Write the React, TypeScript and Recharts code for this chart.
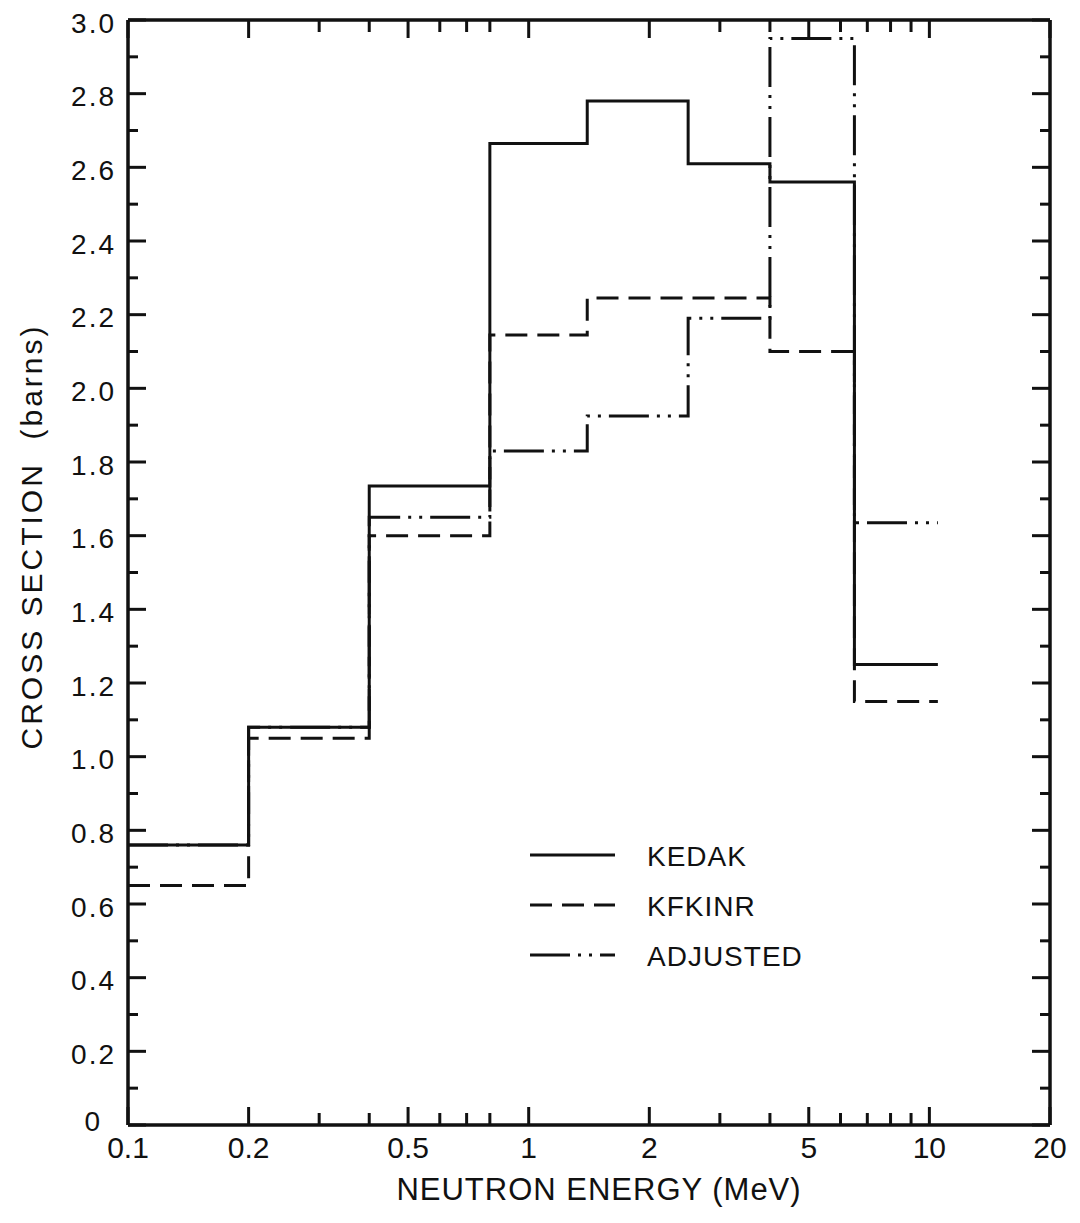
import { Legend, Line, LineChart, XAxis, YAxis } from "recharts";

// bin edges (MeV) and the group cross sections (barns) per bin
const energyEdges = [0.1, 0.2, 0.4, 0.8, 1.4, 2.5, 4.0, 6.5, 10.5];
const kedak = [0.76, 1.08, 1.735, 2.665, 2.78, 2.61, 2.56, 1.25];
const kfkinr = [0.65, 1.05, 1.6, 2.145, 2.245, 2.245, 2.1, 1.15];
const adjusted = [0.76, 1.08, 1.65, 1.83, 1.925, 2.19, 2.95, 1.635];

const xMajorTicks = [0.1, 0.2, 0.5, 1, 2, 5, 10, 20];
const xMinorTicks = [0.3, 0.4, 0.6, 0.7, 0.8, 3, 4, 6, 7, 8, 9];
const yMajorTicks = [0, 0.2, 0.4, 0.6, 0.8, 1.0, 1.2, 1.4, 1.6, 1.8, 2.0, 2.2, 2.4, 2.6, 2.8, 3.0];
const yMinorTicks = [0.1, 0.3, 0.5, 0.7, 0.9, 1.1, 1.3, 1.5, 1.7, 1.9, 2.1, 2.3, 2.5, 2.7, 2.9];

const FONT = '"Liberation Sans", Arial, sans-serif';
const INK = "#111";

const series = [
  { key: "kedak", name: "KEDAK", dash: undefined as string | undefined },
  { key: "kfkinr", name: "KFKINR", dash: "22 10" },
  { key: "adjusted", name: "ADJUSTED", dash: "40 8 3 8 3 8" },
];

// last edge repeats the last bin value so the step closes at 10.5 MeV
const rows = energyEdges.map((energy, i) => {
  const bin = Math.min(i, kedak.length - 1);
  return { energy, kedak: kedak[bin], kfkinr: kfkinr[bin], adjusted: adjusted[bin] };
});

const xTicks = [...xMajorTicks, ...xMinorTicks].sort((a, b) => a - b);
const yTicks = [...yMajorTicks, ...yMinorTicks].sort((a, b) => a - b);

const MAJOR = 18;
const MINOR = 10;

function BottomTick({ x, y, payload }: any) {
  const major = xMajorTicks.includes(payload.value);
  return (
    <g>
      <line x1={x} x2={x} y1={y} y2={y - (major ? MAJOR : MINOR + 2)} stroke={INK} strokeWidth={3} />
      {major && (
        <text
          x={x}
          y={y + 22}
          textAnchor="middle"
          dominantBaseline="central"
          fontSize={30}
          fontFamily={FONT}
          fill={INK}
        >
          {String(payload.value)}
        </text>
      )}
    </g>
  );
}

function TopTick({ x, y, payload }: any) {
  const major = xMajorTicks.includes(payload.value);
  return <line x1={x} x2={x} y1={y} y2={y + (major ? MAJOR : MINOR + 2)} stroke={INK} strokeWidth={3} />;
}

function LeftTick({ x, y, payload }: any) {
  const v = payload.value;
  const major = yMajorTicks.includes(v);
  // the zero label sits further left so it clears the 0.1 label at the corner
  const zero = v === 0;
  return (
    <g>
      <line x1={x} x2={x + (major ? MAJOR : MINOR)} y1={y} y2={y} stroke={INK} strokeWidth={3} />
      {major && (
        <text
          x={x - (zero ? 26 : 12)}
          y={y + (zero ? -4 : 3)}
          textAnchor="end"
          dominantBaseline="central"
          fontSize={28}
          letterSpacing={2}
          fontFamily={FONT}
          fill={INK}
        >
          {zero ? "0" : v.toFixed(1)}
        </text>
      )}
    </g>
  );
}

function RightTick({ x, y, payload }: any) {
  const major = yMajorTicks.includes(payload.value);
  return <line x1={x} x2={x - (major ? MAJOR : MINOR)} y1={y} y2={y} stroke={INK} strokeWidth={3} />;
}

function YLabel({ viewBox }: any) {
  const cx = viewBox.x + 3;
  const cy = viewBox.y + viewBox.height / 2 - 36;
  return (
    <text
      transform={`translate(${cx}, ${cy}) rotate(-90)`}
      textAnchor="middle"
      dominantBaseline="central"
      fontSize={30}
      letterSpacing={3}
      fontFamily={FONT}
      fill={INK}
      style={{ whiteSpace: "pre" }}
    >
      CROSS SECTION  (barns)
    </text>
  );
}

function XLabel({ viewBox }: any) {
  return (
    <text
      x={viewBox.x + viewBox.width / 2 + 10}
      y={viewBox.y + 64}
      textAnchor="middle"
      dominantBaseline="central"
      fontSize={31}
      letterSpacing={1}
      fontFamily={FONT}
      fill={INK}
    >
      NEUTRON ENERGY (MeV)
    </text>
  );
}

function LegendBox() {
  return (
    <svg width={330} height={140}>
      {series.map((s, i) => (
        <g key={s.key}>
          <line
            x1={5}
            x2={90}
            y1={20 + i * 50}
            y2={20 + i * 50}
            stroke={INK}
            strokeWidth={3}
            strokeDasharray={s.dash}
          />
          <text
            x={122}
            y={21 + i * 50}
            dominantBaseline="central"
            fontSize={28}
            letterSpacing={1}
            fontFamily={FONT}
            fill={INK}
          >
            {s.name}
          </text>
        </g>
      ))}
    </svg>
  );
}

export default function App() {
  return (
    <div style={{ position: "absolute", left: 0, top: 0, width: 1080, height: 1223, background: "#fff" }}>
      <LineChart width={1080} height={1223} data={rows} margin={{ top: 18, right: 28, left: 28, bottom: 28 }}>
        <XAxis
          dataKey="energy"
          type="number"
          scale="log"
          domain={[0.1, 20]}
          allowDataOverflow
          ticks={xTicks}
          interval={0}
          height={70}
          tickSize={0}
          tickMargin={0}
          tickLine={false}
          tick={<BottomTick />}
          axisLine={{ stroke: INK, strokeWidth: 3.5 }}
          label={<XLabel />}
        />
        <XAxis
          xAxisId="top"
          orientation="top"
          dataKey="energy"
          type="number"
          scale="log"
          domain={[0.1, 20]}
          allowDataOverflow
          ticks={xTicks}
          interval={0}
          height={2}
          tickSize={0}
          tickMargin={0}
          tickLine={false}
          tick={<TopTick />}
          axisLine={{ stroke: INK, strokeWidth: 3.5 }}
        />
        <YAxis
          type="number"
          domain={[0, 3]}
          allowDataOverflow
          ticks={yTicks}
          interval={0}
          width={100}
          tickSize={0}
          tickMargin={0}
          tickLine={false}
          tick={<LeftTick />}
          axisLine={{ stroke: INK, strokeWidth: 3.5 }}
          label={<YLabel />}
        />
        <YAxis
          yAxisId="right"
          orientation="right"
          type="number"
          domain={[0, 3]}
          allowDataOverflow
          ticks={yTicks}
          interval={0}
          width={2}
          tickSize={0}
          tickMargin={0}
          tickLine={false}
          tick={<RightTick />}
          axisLine={{ stroke: INK, strokeWidth: 3.5 }}
        />
        <Legend
          layout="vertical"
          align="center"
          verticalAlign="middle"
          content={<LegendBox />}
          wrapperStyle={{ left: 525, top: 835, width: 330, height: 140 }}
        />
        {[...series].reverse().map((s) => (
          <Line
            key={s.key}
            dataKey={s.key}
            name={s.name}
            type="stepAfter"
            stroke={INK}
            strokeWidth={3}
            strokeDasharray={s.dash}
            dot={false}
            activeDot={false}
            isAnimationActive={false}
          />
        ))}
      </LineChart>
    </div>
  );
}
